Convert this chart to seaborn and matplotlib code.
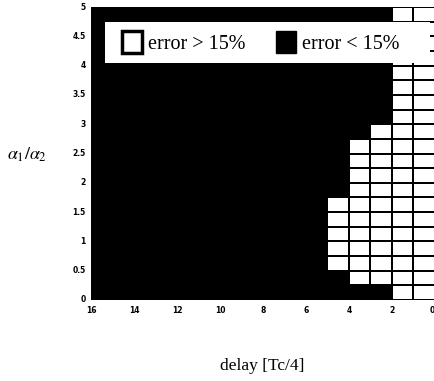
import numpy as np
import matplotlib
matplotlib.use("Agg")
import matplotlib.pyplot as plt
from matplotlib.colors import ListedColormap
from matplotlib.patches import Patch, Rectangle
import seaborn as sns

# ------------------ DATA ------------------
delay_max = 16          # x axis runs 16 -> 0 (units of Tc/4)
alpha_max = 5.0         # y axis 0 -> 5
alpha_step = 0.25       # row height

# delay bins (upper edge) that contain "error > 15%" cells, and the
# alpha1/alpha2 range where the error is above 15%
bad_delay = [5, 4, 3, 2, 1]
bad_alpha_lo = [0.5, 0.25, 0.25, 0.0, 0.0]
bad_alpha_hi = [1.75, 2.75, 3.0, 5.0, 5.0]

x_ticks = [16, 14, 12, 10, 8, 6, 4, 2, 0]
y_ticks = [0, 0.5, 1, 1.5, 2, 2.5, 3, 3.5, 4, 4.5, 5]
y_ticklabels = ["0", "0.5", "1", "1.5", "2", "2.5", "3", "3.5", "4", "4.5", "5"]

# ------------------ GRID ------------------
n_rows = int(alpha_max / alpha_step)
alpha_lower = np.arange(n_rows) * alpha_step
grid = np.zeros((n_rows, delay_max))
for d, lo, hi in zip(bad_delay, bad_alpha_lo, bad_alpha_hi):
    col = delay_max - d
    grid[(alpha_lower >= lo - 1e-9) & (alpha_lower < hi - 1e-9), col] = 1

# ------------------ PLOT ------------------
plt.rcParams["mathtext.fontset"] = "stix"
fig = plt.figure(figsize=(4.35, 3.81), dpi=100)
ax = fig.add_axes([91 / 435, 81 / 381, 344 / 435, 293 / 381])

sns.heatmap(grid, cmap=ListedColormap(["black", "white"]), vmin=0, vmax=1,
            cbar=False, linewidths=1.3, linecolor="black", ax=ax)
ax.invert_yaxis()

ax.set_xticks([delay_max - d for d in x_ticks])
ax.set_xticklabels([str(d) for d in x_ticks], rotation=0,
                   fontsize=5.5, fontweight="bold", family="DejaVu Sans")
ax.get_xticklabels()[-1].set_ha("right")
ax.set_yticks([v / alpha_step for v in y_ticks])
ax.set_yticklabels(y_ticklabels, rotation=0,
                   fontsize=5.5, fontweight="bold", family="DejaVu Sans")
ax.tick_params(length=0, pad=4)
ax.set_xlabel("")
ax.set_ylabel("")

fig.text(27 / 435, 1 - 155 / 381, r"$\alpha_1/\alpha_2$", fontsize=13,
         ha="center", va="center")
fig.text(262 / 435, 1 - 366 / 381, "delay [Tc/4]", fontsize=12.5,
         family="Liberation Serif", ha="center", va="center")

# legend panel (white box over the map)
ax.add_patch(Rectangle((105 / 435, 1 - 63 / 381), 325 / 435, 41 / 381,
                       transform=fig.transFigure, facecolor="white",
                       edgecolor="none", zorder=4, clip_on=False))
handles = [Patch(facecolor="white", edgecolor="black", linewidth=2.5),
           Patch(facecolor="black", edgecolor="black")]
leg = ax.legend(handles, ["error > 15%", "error < 15%"], ncol=2,
                loc="center left", bbox_to_anchor=(122 / 435, 1 - 42.5 / 381),
                bbox_transform=fig.transFigure, borderaxespad=0,
                prop={"family": "Liberation Serif", "size": 14.5},
                handlelength=1.0, handleheight=1.25, handletextpad=0.3,
                columnspacing=1.5, borderpad=0, frameon=False)
leg.set_zorder(5)

fig.savefig("out.png", dpi=100)
